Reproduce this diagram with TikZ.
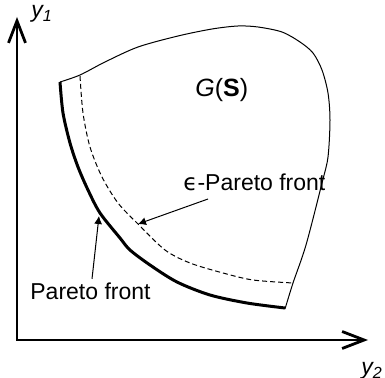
\documentclass[tikz,border=0pt]{standalone}
\usepackage{fontspec}
\setmainfont{Liberation Sans}
\newfontfamily\epsfont{DejaVu Sans}
\usetikzlibrary{arrows.meta}

\tikzset{
  axis/.style={line width=1.4pt,
    {Straight Barb[length=11pt,width=8.5pt]}-{Straight Barb[length=11pt,width=8.5pt]}},
  region/.style={line width=0.5pt},
  front/.style={line width=1.5pt},
  epsfront/.style={line width=0.5pt,dash pattern=on 2.5pt off 1.5pt},
  lbl/.style={inner sep=0pt,font=\fontsize{11.5}{13}\selectfont},
  axlbl/.style={lbl,anchor=base west,font=\fontsize{11.5}{13}\selectfont\itshape},
  pointer/.style={line width=0.5pt,-{Latex[length=4pt,width=4pt]}}
}

\begin{document}
\begin{tikzpicture}[x=0.5pt,y=-0.5pt]
  \useasboundingbox (0,0) rectangle (385,378);

  % axes
  \coordinate (o) at (17,340);
  \coordinate (y1end) at (17,17);
  \coordinate (y2end) at (368,340);
  \draw[axis] (y1end) -- (o) -- (y2end);
  \node[axlbl] (y1) at (31,18) {y\textsubscript{1}};
  \node[axlbl] (y2) at (361,375) {y\textsubscript{2}};

  % the set G(S)
  \draw[region] plot[smooth] coordinates {(60,82) (80,75) (105,62) (138,47) (178,36) (212,29)
    (238,26) (258,27) (282,32) (300,42) (313,53) (322,70) (328,93) (330,120) (328,157)
    (322,183) (306,245) (293,283) (285,309)};
  \draw[front] plot[smooth] coordinates {(60,82) (63,113) (70,143) (78,167) (88,190) (100,213)
    (120,238) (130,250) (150,265) (177,282) (210,295) (247,303) (285,308)};
  \draw[epsfront] plot[smooth] coordinates {(80,76) (83,113) (90,147) (102,177) (118,203)
    (138,224) (165,250) (190,263) (223,273) (253,280) (293,283)};
  \node[lbl,anchor=base west,font=\fontsize{12.5}{14}\selectfont] (gs) at (195,97) {\textit{G}(\textbf{S})};

  % labels
  \coordinate (epstip) at (138,224);
  \coordinate (frontip) at (99,216);
  \node[lbl,anchor=base west] (epslbl) at (183,191) {{\epsfont ϵ}-Pareto front};
  \node[lbl,anchor=base west] (frontlbl) at (30,300) {Pareto front};
  \draw[pointer] ([shift={(25,8)}]epslbl.base west) -- (epstip);
  \draw[pointer] ([shift={(62,-4)}]frontlbl.north west) -- (frontip);
\end{tikzpicture}
\end{document}
